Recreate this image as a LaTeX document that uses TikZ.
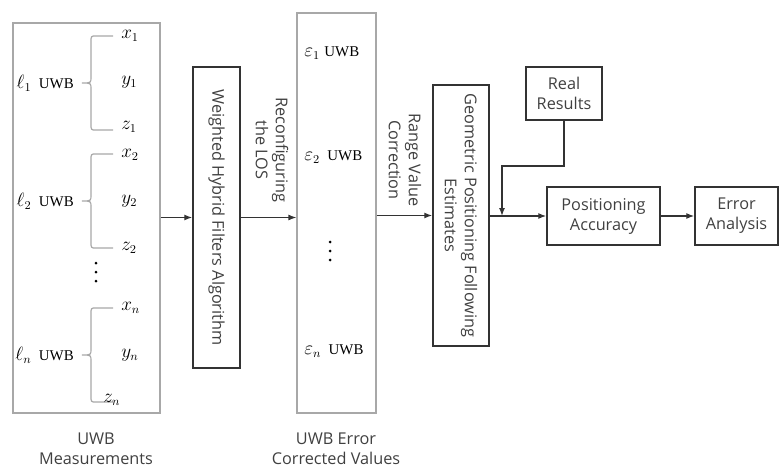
\documentclass[tikz,border=0pt]{standalone}
\usepackage{fontspec}
\setmainfont{Liberation Serif}
\newfontfamily\lab{Open Sans}
\usetikzlibrary{arrows.meta}
\definecolor{ink}{HTML}{333333}
\definecolor{txt}{HTML}{404040}
\definecolor{grayline}{HTML}{A8A8A8}
\tikzset{
  px/.style={x=0.75pt,y=-0.75pt},
  graybox/.style={draw=grayline,line width=0.9pt,inner sep=0pt},
  darkbox/.style={draw=ink,line width=1.1pt,inner sep=0pt,font=\lab\fontsize{12.2}{15}\selectfont,text=txt,align=center},
  arr/.style={draw=ink,line width=1pt,-{Latex[length=6pt,width=4.5pt]}},
  lbl/.style={font=\lab\fontsize{12.2}{15}\selectfont,text=txt,align=center,inner sep=0pt},
  ser/.style={font=\fontsize{13.5}{15}\selectfont,inner sep=0pt},
  bracestyle/.style={draw=grayline,line width=0.9pt},
  bracepic/.pic={
    \draw[bracestyle] (31,-47) -- (14,-47) .. controls (9,-47) .. (9,-41) -- (9,-6)
      .. controls (9,0) .. (0,0) .. controls (9,0) .. (9,6) -- (9,41)
      .. controls (9,47) .. (14,47) -- (31,47);
  }
}
\newcommand\uwb{\fontsize{11.2}{12}\selectfont UWB}
\begin{document}
\begin{tikzpicture}[px]
\useasboundingbox (0,0) rectangle (779,467);
% boxes
\node[graybox,minimum width=147*0.75pt,minimum height=390*0.75pt] (L) at (86.5,218) {};
\node[graybox,minimum width=79*0.75pt,minimum height=400*0.75pt] (M) at (336.5,213) {};
\node[darkbox,minimum width=47*0.75pt,minimum height=301*0.75pt] (W) at (216.5,217.5) {};
\node[lbl,rotate=-90] (Wt) at (W.center) {Weighted Hybrid Filters Algorithm};
\node[darkbox,minimum width=56*0.75pt,minimum height=261*0.75pt] (G) at (461,215.5) {};
\node[lbl,rotate=-90] (Gt) at (G.center) {Geometric Positioning Following\\Estimates};
\node[darkbox,minimum width=76*0.75pt,minimum height=53*0.75pt] (R) at (564,93.5) {Real\\Results};
\node[darkbox,minimum width=113*0.75pt,minimum height=58*0.75pt] (P) at (603.5,216) {Positioning\\Accuracy};
\node[darkbox,minimum width=83*0.75pt,minimum height=58*0.75pt] (E) at (736.5,216) {Error\\Analysis};
% left box contents
\pic at (82,83) {bracepic};
\pic at (82,201) {bracepic};
\pic at (82,355) {bracepic};
\node[ser,anchor=east] (l1) at (74,83) {$\ell_1$\, \uwb};
\node[ser,anchor=east] (l2) at (74,201) {$\ell_2$\, \uwb};
\node[ser,anchor=east] (ln) at (74,355) {$\ell_n$\, \uwb};
\node[ser,anchor=west] (x1) at (121,36) {$x_1$};
\node[ser,anchor=west] (y1) at (121,82) {$y_1$};
\node[ser,anchor=west] (z1) at (121,127) {$z_1$};
\node[ser,anchor=west] (x2) at (121,155) {$x_2$};
\node[ser,anchor=west] (y2) at (121,201) {$y_2$};
\node[ser,anchor=west] (z2) at (121,248) {$z_2$};
\node[ser,anchor=west] (xn) at (121,308) {$x_n$};
\node[ser,anchor=west] (yn) at (121,355) {$y_n$};
\node[ser,anchor=west] (zn) at (103,400) {$z_n$};
\foreach \yy in {263,272,281} \fill (96,\yy) circle (1.5);
% middle box contents
\node[ser,anchor=west] (e1) at (304,53) {$\varepsilon_1$ \uwb};
\node[ser,anchor=west] (e2) at (304,157) {$\varepsilon_2$\, \uwb};
\node[ser,anchor=west] (en) at (304,351) {$\varepsilon_n$\, \uwb};
\foreach \yy in {242,251,260} \fill (330,\yy) circle (1.5);
% captions
\node[lbl] (c1) at (96,449) {UWB\\Measurements};
\node[lbl] (c2) at (336,449) {UWB Error\\Corrected Values};
\node[lbl,rotate=-90] (r1) at (272,150) {Reconfiguring\\the LOS};
\node[lbl,rotate=-90] (r2) at (405,160) {Range Value\\Correction};
% connectors
\draw[arr] (L.east |- W.west) -- (W.west);
\draw[arr] (W.east) -- (W.east -| M.west);
\draw[arr] (G.west -| M.east) -- (G.west);
\draw[arr] (P.west -| G.east) -- (P.west);
\draw[arr] (P.east) -- (E.west);
\coordinate (bend) at (502,166);
\coordinate (join) at (502,216);
\draw[arr] (R.south) |- (bend) -- (join);
\end{tikzpicture}
\end{document}
